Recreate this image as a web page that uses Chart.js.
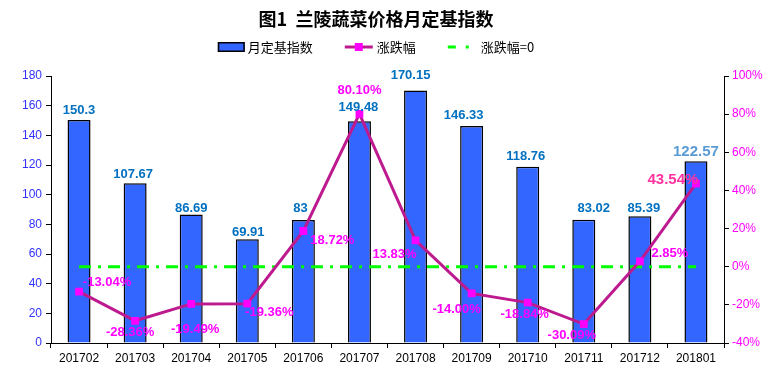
<!DOCTYPE html>
<html><head><meta charset="utf-8">
<script src="https://cdn.jsdelivr.net/npm/chart.js@4/dist/chart.umd.min.js"></script>
<style>html,body{margin:0;padding:0;background:#fff}#wrap{width:770px;height:374px}</style>
</head><body><div id="wrap"><canvas id="c" width="770" height="374"></canvas></div>
<script>
const categories = ['201702','201703','201704','201705','201706','201707','201708','201709','201710','201711','201712','201801'];
const indexValues = [150.3,107.67,86.69,69.91,83,149.48,170.15,146.33,118.76,83.02,85.39,122.57];
const changePct = [-13.04,-28.36,-19.49,-19.36,18.72,80.10,13.83,-14.00,-18.84,-30.09,2.85,43.54];
const zeroLine = [0,0,0,0,0,0,0,0,0,0,0,0];
const leftTickValues = [0,20,40,60,80,100,120,140,160,180];
const rightTickValues = [-40,-20,0,20,40,60,80,100];
const seriesNames = ['月定基指数','涨跌幅','涨跌幅=0'];
const titleText = '图1  兰陵蔬菜价格月定基指数';

// label placement (pixel nudges, style only)
const barLabelShift = [[0,-11],[-2,-10],[0,-7],[1,-8],[-3,-12.5],[-1,-15],[-5,-16.6],[-8,-12],[-2,-12],[10,-13],[4,-9],[0,-11]];
const pctLabelShift = [[28,-10],[-5,11],[4,24],[22,8],[29,8],[0,-24.5],[-21,13],[-15,15],[-3,11],[-12,10],[30,-9],[-23,-5]];

const BAR_COLOR = '#3366FF', LINE_COLOR = '#BE1A8F', MARK_COLOR = '#FF00FF', ZERO_COLOR = '#00FF00';
const NUM_FONT = '"Liberation Sans", Arial, sans-serif';
const CJK_FONT = '"Noto Sans CJK SC", sans-serif';
const HEAD_CENTER_SHIFT = -9;

const labelPlugin = {
  id: 'valueLabels',
  afterDatasetsDraw(chart) {
    const ctx = chart.ctx;
    const barMeta = chart.getDatasetMeta(0);
    const lineMeta = chart.getDatasetMeta(1);
    ctx.save();
    ctx.textAlign = 'center';
    ctx.textBaseline = 'alphabetic';
    barMeta.data.forEach((el, i) => {
      const big = i === indexValues.length - 1;
      const size = big ? 15 : 13;
      ctx.font = 'bold ' + size + 'px ' + NUM_FONT;
      ctx.fillStyle = big ? '#5B9BD5' : '#0070C0';
      const [dx, dy] = barLabelShift[i];
      ctx.fillText(String(indexValues[i]), el.x + dx, el.y + dy + size * 0.36);
    });
    lineMeta.data.forEach((el, i) => {
      const big = i === changePct.length - 1;
      const size = big ? 15 : 13;
      ctx.font = 'bold ' + size + 'px ' + NUM_FONT;
      ctx.fillStyle = big ? '#FF33A0' : '#FF00FF';
      const [dx, dy] = pctLabelShift[i];
      ctx.fillText(changePct[i].toFixed(2) + '%', el.x + dx, el.y + dy + size * 0.36);
    });
    ctx.restore();
  }
};

const headerPlugin = {
  id: 'header',
  afterDraw(chart) {
    const ctx = chart.ctx;
    const cx = chart.width / 2 + HEAD_CENTER_SHIFT;
    ctx.save();
    // title
    ctx.font = 'bold 18px ' + CJK_FONT;
    ctx.fillStyle = '#000'; ctx.textAlign = 'center'; ctx.textBaseline = 'middle';
    ctx.fillText(titleText, cx, 19);
    // legend
    const cy = 47;
    ctx.font = '13px ' + CJK_FONT;
    const iconW = [27, 28, 29], gapT = [3, 4, 4], gapItem = 32;
    const tw = seriesNames.map(t => ctx.measureText(t).width);
    let total = 0;
    for (let i = 0; i < 3; i++) total += iconW[i] + gapT[i] + tw[i] + (i < 2 ? gapItem : 0);
    let x = cx - total / 2;
    for (let i = 0; i < 3; i++) {
      if (i === 0) {
        ctx.fillStyle = BAR_COLOR; ctx.fillRect(x, cy - 5, iconW[0], 10);
        ctx.strokeStyle = '#000'; ctx.lineWidth = 1.5; ctx.strokeRect(x + 0.75, cy - 4.25, iconW[0] - 1.5, 8.5);
      } else if (i === 1) {
        ctx.strokeStyle = LINE_COLOR; ctx.lineWidth = 3;
        ctx.beginPath(); ctx.moveTo(x, cy); ctx.lineTo(x + iconW[1], cy); ctx.stroke();
        ctx.fillStyle = MARK_COLOR; ctx.fillRect(x + iconW[1] / 2 - 4, cy - 4, 8, 8);
      } else {
        ctx.strokeStyle = ZERO_COLOR; ctx.lineWidth = 3;
        ctx.beginPath(); ctx.moveTo(x, cy); ctx.lineTo(x + 8, cy); ctx.moveTo(x + 18, cy); ctx.lineTo(x + 21, cy); ctx.stroke();
      }
      x += iconW[i] + gapT[i];
      ctx.fillStyle = '#000'; ctx.textAlign = 'left'; ctx.textBaseline = 'middle';
      ctx.fillText(seriesNames[i], x, cy);
      x += tw[i] + gapItem;
    }
    ctx.restore();
  }
};

new Chart(document.getElementById('c'), {
  data: {
    labels: categories,
    datasets: [
      { type: 'bar', label: seriesNames[0], data: indexValues, yAxisID: 'y', order: 3,
        backgroundColor: BAR_COLOR, borderColor: '#000', borderWidth: 1.5,
        barPercentage: 0.41, categoryPercentage: 1 },
      { type: 'line', label: seriesNames[1], data: changePct, yAxisID: 'y1', order: 1,
        borderColor: LINE_COLOR, borderWidth: 3, tension: 0,
        pointStyle: 'rect', pointRadius: 5.5, pointBorderWidth: 0,
        pointBackgroundColor: MARK_COLOR, pointBorderColor: MARK_COLOR },
      { type: 'line', label: seriesNames[2], data: zeroLine, yAxisID: 'y1', order: 2,
        borderColor: ZERO_COLOR, borderWidth: 3, borderDash: [12, 7, 3, 7], pointRadius: 0, tension: 0 }
    ]
  },
  options: {
    responsive: false, animation: false, devicePixelRatio: 1,
    layout: { padding: { left: 0, right: 0, top: 76, bottom: 0 } },
    plugins: {
      legend: { display: false },
      tooltip: { enabled: false },
      title: { display: false }
    },
    scales: {
      x: {
        afterFit(s) { s.height = 31; },
        grid: { display: true, drawOnChartArea: false, drawTicks: true, tickLength: 5, color: '#000', offset: true },
        border: { display: true, color: '#000', width: 1 },
        ticks: { color: '#000', font: { family: NUM_FONT, size: 12 }, padding: 3, maxRotation: 0, autoSkip: false }
      },
      y: {
        position: 'left', min: leftTickValues[0], max: leftTickValues[leftTickValues.length - 1],
        afterFit(s) { s.width = 51; },
        afterBuildTicks(s) { s.ticks = leftTickValues.map(v => ({ value: v })); },
        grid: { display: true, drawOnChartArea: false, drawTicks: true, tickLength: 5, color: '#000' },
        border: { display: true, color: '#000', width: 1 },
        ticks: { color: '#3232FF', font: { family: NUM_FONT, size: 12 }, padding: 4 }
      },
      y1: {
        position: 'right', min: rightTickValues[0], max: rightTickValues[rightTickValues.length - 1],
        afterFit(s) { s.width = 46; },
        afterBuildTicks(s) { s.ticks = rightTickValues.map(v => ({ value: v })); },
        grid: { display: true, drawOnChartArea: false, drawTicks: true, tickLength: 5, color: '#000' },
        border: { display: true, color: '#000', width: 1 },
        ticks: { color: '#FF00FF', font: { family: NUM_FONT, size: 12 }, padding: 3, callback: v => v + '%' }
      }
    }
  },
  plugins: [labelPlugin, headerPlugin]
});
</script>
</body></html>
